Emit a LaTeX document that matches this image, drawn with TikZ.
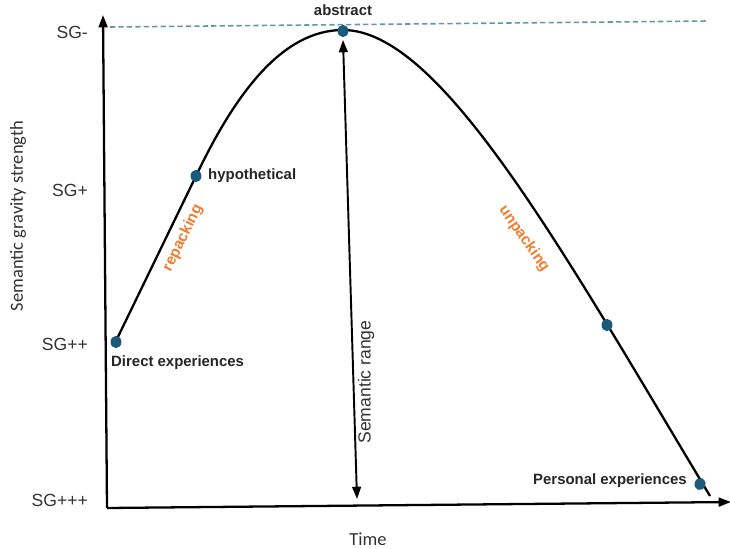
\documentclass[tikz,border=0pt]{standalone}
\usepackage{fontspec}
\setmainfont{Liberation Sans}
\newfontfamily\calfont{Carlito}
\usepackage{tikz}
\usetikzlibrary{positioning, arrows.meta, calc, shapes.geometric}

\definecolor{dotblue}{RGB}{27,90,122}
\definecolor{guide}{RGB}{95,150,180}
\definecolor{packorange}{RGB}{237,125,49}
\definecolor{sgtext}{RGB}{50,50,50}

\tikzset{
  axisline/.style={line width=1.3pt, -{Triangle[length=7pt,width=5pt]}},
  rangearrow/.style={line width=1.1pt, {Triangle[length=7pt,width=5pt]}-{Triangle[length=7pt,width=5pt]}},
  dot/.style={ellipse, fill=dotblue, inner sep=0pt, minimum width=6.2pt, minimum height=7pt},
  sglabel/.style={text=sgtext, font=\fontsize{10}{12}\selectfont},
  pointlabel/.style={text=black!85, font=\bfseries\fontsize{8.5}{10}\selectfont},
  phase/.style={text=packorange, font=\bfseries\fontsize{8.7}{10}\selectfont},
  axistitle/.style={text=sgtext, font=\calfont\fontsize{10.5}{12}\selectfont}
}

\begin{document}
\begin{tikzpicture}[x=0.02cm, y=-0.02cm]
  \useasboundingbox (0,0) rectangle (730,548);

  % Axes
  \coordinate (origin) at (107,508);
  \coordinate (ytop) at (103,15);
  \coordinate (xend) at (731,502);
  \draw[axisline] (origin) -- (ytop);
  \draw[axisline] (origin) -- (xend);

  % Levels
  \foreach \lab/\y in {SG-/32, SG+/190, SG++/344, SG+++/500}
    \node[sglabel, anchor=east] (sg\y) at (94,\y) {\lab};
  \node[axistitle, rotate=90] (ylabel) at (18,216) {Semantic gravity strength};
  \node[axistitle, anchor=base] (xlabel) at (368,545) {Time};

  % Top reference line
  \coordinate (gleft) at (110,27);
  \coordinate (gright) at (708,21);
  \draw[guide, line width=0.9pt, dash pattern=on 3pt off 1.8pt] (gleft) -- (gright);

  % Curve
  \coordinate (start) at (115,343);
  \coordinate (hyp) at (196,176);
  \coordinate (peak) at (343,30);
  \coordinate (finish) at (710,496);
  \draw[line width=1.3pt] (start) -- (hyp) .. controls (236,92) and (283,30) .. (peak)
    .. controls (440,30) and (560,246) .. (finish);

  % Points on the curve
  \node[dot] (direct) at (116,342) {};
  \node[dot] (hypo) at (hyp) {};
  \node[dot] (abstr) at (343,31) {};
  \node[dot] (mid) at (607,325) {};
  \node[dot, rotate=-20] (personal) at (700,484) {};

  \node[pointlabel, anchor=north west] (directlab) at (105,349) {Direct experiences};
  \node[pointlabel, anchor=west] (hypolab) at (202,176) {hypothetical};
  \node[pointlabel, anchor=south] (abstrlab) at (343,22) {abstract};
  \node[pointlabel, anchor=east] (personallab) at (693,481) {Personal experiences};

  % Range
  \coordinate (rtop) at (343,40);
  \coordinate (rbottom) at (357,499);
  \draw[rangearrow] (rtop) -- (rbottom);
  \node[sglabel, rotate=90] (rangelab) at (366,382) {Semantic range};

  % Phases
  \node[phase, rotate=64] (repack) at (183,238) {repacking};
  \node[phase, rotate=-55] (unpack) at (524,239) {unpacking};
\end{tikzpicture}
\end{document}
